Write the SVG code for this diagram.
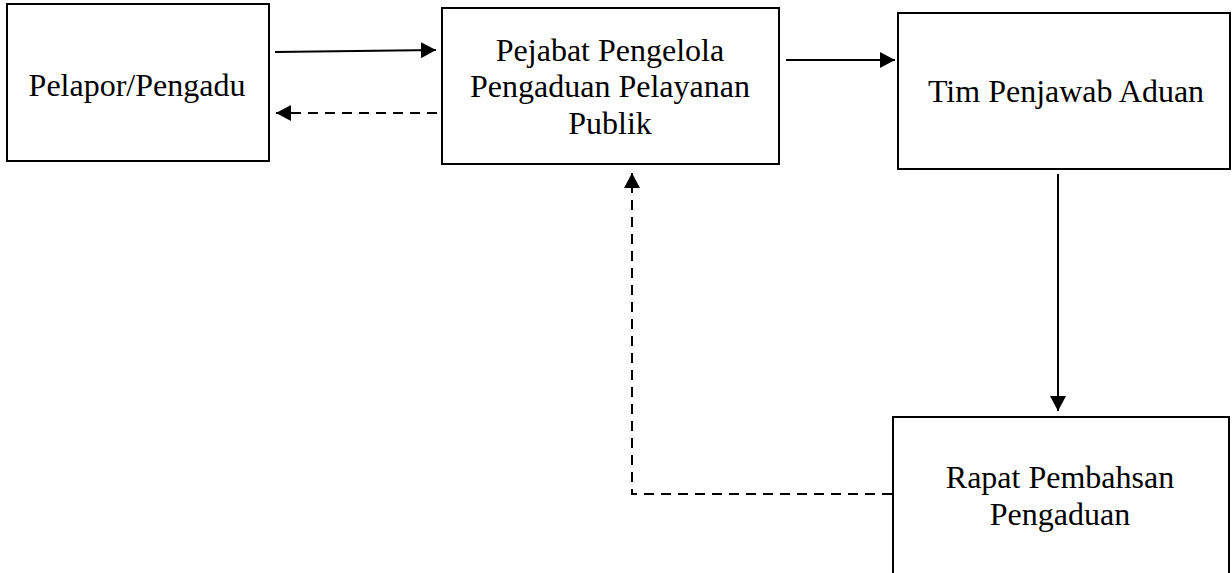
<svg xmlns="http://www.w3.org/2000/svg" width="1232" height="573" viewBox="0 0 1232 573">
<style>
.box{fill:#fff;stroke:#000;stroke-width:2}
.t{font-family:"Liberation Serif","Times New Roman",serif;font-size:32px;fill:#000;text-anchor:middle}
.c{fill:none;stroke:#000;stroke-width:2}
.d{stroke-dasharray:10,7}
</style>
<defs>
<marker id="ah" markerWidth="15" markerHeight="16" refX="15" refY="8" orient="auto" markerUnits="userSpaceOnUse">
<path d="M0,0 L15,8 L0,16 Z" fill="#000"/>
</marker>
</defs>
<rect width="1232" height="573" fill="#fff"/>
<g id="node-pelapor">
<rect class="box" x="7" y="4" width="262" height="157"/>
<text class="t" x="137" y="96">Pelapor/Pengadu</text>
</g>
<g id="node-pejabat">
<rect class="box" x="442" y="8" width="337" height="156"/>
<text class="t" x="610" y="61">Pejabat Pengelola</text>
<text class="t" x="610" y="97">Pengaduan Pelayanan</text>
<text class="t" x="610" y="134">Publik</text>
</g>
<g id="node-tim">
<rect class="box" x="898" y="13" width="332" height="156"/>
<text class="t" x="1066" y="102">Tim Penjawab Aduan</text>
</g>
<g id="node-rapat">
<rect class="box" x="893" y="417" width="336" height="190"/>
<text class="t" x="1060" y="488">Rapat Pembahsan</text>
<text class="t" x="1060" y="525">Pengaduan</text>
</g>
<g id="connectors">
<path class="c" d="M275,52 L436,50" marker-end="url(#ah)"/>
<path class="c d" d="M437,113 L276,113" marker-end="url(#ah)"/>
<path class="c" d="M786,60 L895,60" marker-end="url(#ah)"/>
<path class="c" d="M1058,174 L1058,411" marker-end="url(#ah)"/>
<path class="c d" d="M892,494 L632,494 L632,173" marker-end="url(#ah)"/>
</g>
</svg>
